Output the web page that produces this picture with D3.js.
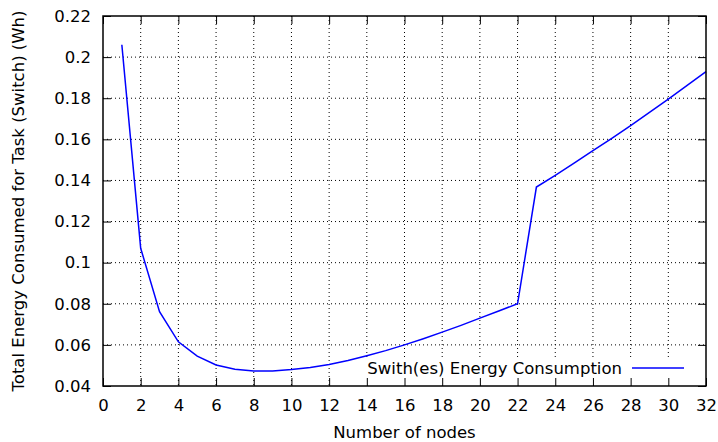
<!DOCTYPE html>
<html>
<head>
<meta charset="utf-8">
<script src="https://cdn.jsdelivr.net/npm/d3@7"></script>
<style>
  body { margin: 0; background: #fff; }
  text { font-family: "DejaVu Sans", sans-serif; fill: #000; }
</style>
</head>
<body>
<div id="chart"></div>
<script>
// number of nodes and switch energy (Wh)
var nodes = [1, 2, 3, 4, 5, 6, 7, 8, 9, 10, 11, 12, 13, 14, 15, 16,
             17, 18, 19, 20, 21, 22, 23, 24, 25, 26, 27, 28, 29, 30, 31, 32];
var energy = [0.206, 0.107, 0.0762, 0.0615, 0.0545, 0.0502, 0.0482, 0.0473,
              0.0473, 0.0480, 0.0490, 0.0505, 0.0524, 0.0547, 0.0572, 0.0600,
              0.0630, 0.0662, 0.0695, 0.0730, 0.0765, 0.0800, 0.1368, 0.1425,
              0.1484, 0.1545, 0.1605, 0.1667, 0.1731, 0.1796, 0.1862, 0.1929];
var xTicks = [0, 2, 4, 6, 8, 10, 12, 14, 16, 18, 20, 22, 24, 26, 28, 30, 32];
var yTicks = [0.04, 0.06, 0.08, 0.1, 0.12, 0.14, 0.16, 0.18, 0.2, 0.22];
var seriesName = "Swith(es) Energy Consumption";

var width = 718, height = 442;
var margin = { top: 16, right: 12, bottom: 56, left: 103 };
var plotW = width - margin.left - margin.right,
    plotH = height - margin.top - margin.bottom;

var svg = d3.select("#chart").append("svg")
    .attr("width", width)
    .attr("height", height);

var g = svg.append("g")
    .attr("transform", "translate(" + margin.left + "," + margin.top + ")");

var x = d3.scaleLinear().domain([0, 32]).range([0, plotW]);
var y = d3.scaleLinear().domain([0.04, 0.22]).range([plotH, 0]);

var fontSize = "16.5px";
var tickLen = 8;

// grid
g.selectAll(".vgrid")
    .data(xTicks.slice(1, -1))
    .join("line")
    .attr("class", "vgrid")
    .attr("x1", d => x(d)).attr("x2", d => x(d))
    .attr("y1", 0).attr("y2", plotH)
    .attr("stroke", "#000").attr("stroke-width", 1)
    .attr("stroke-dasharray", "1,3");

g.selectAll(".hgrid")
    .data(yTicks.slice(1, -1))
    .join("line")
    .attr("class", "hgrid")
    .attr("x1", 0).attr("x2", plotW)
    .attr("y1", d => y(d)).attr("y2", d => y(d))
    .attr("stroke", "#000").attr("stroke-width", 1)
    .attr("stroke-dasharray", "1,3");

// opaque key box: hides the grid, sits under the curve
var keyX = plotW - 22, keyY = plotH - 18;
g.append("rect")
    .attr("x", keyX - 322).attr("y", keyY - 11)
    .attr("width", 340).attr("height", 29)
    .attr("fill", "#fff");

// data line
var line = d3.line()
    .x((d, i) => x(nodes[i]))
    .y(d => y(d));

g.append("path")
    .datum(energy)
    .attr("d", line)
    .attr("fill", "none")
    .attr("stroke", "#0000ff")
    .attr("stroke-width", 1.5);

// legend
var legend = g.append("g")
    .attr("transform", "translate(" + keyX + "," + keyY + ")");

legend.append("line")
    .attr("x1", -52).attr("x2", 0)
    .attr("y1", 0).attr("y2", 0)
    .attr("stroke", "#0000ff")
    .attr("stroke-width", 1.5);

legend.append("text")
    .attr("x", -62)
    .attr("y", 0)
    .attr("dy", "0.36em")
    .attr("text-anchor", "end")
    .style("font-size", fontSize)
    .text(seriesName);

// axes with inward ticks on all four sides
var xAxisB = d3.axisBottom(x).tickValues(xTicks).tickSizeInner(-tickLen).tickSizeOuter(0)
    .tickPadding(13).tickFormat(d3.format("d"));
var xAxisT = d3.axisTop(x).tickValues(xTicks).tickSizeInner(-tickLen).tickSizeOuter(0)
    .tickFormat("");
var yAxisL = d3.axisLeft(y).tickValues(yTicks).tickSizeInner(-tickLen).tickSizeOuter(0)
    .tickPadding(12).tickFormat(d3.format("~g"));
var yAxisR = d3.axisRight(y).tickValues(yTicks).tickSizeInner(-tickLen).tickSizeOuter(0)
    .tickFormat("");

g.append("g").attr("transform", "translate(0," + plotH + ")").call(xAxisB);
g.append("g").call(xAxisT);
g.append("g").call(yAxisL);
g.append("g").attr("transform", "translate(" + plotW + ",0)").call(yAxisR);

g.selectAll(".domain").remove();
g.selectAll(".tick line").attr("stroke", "#000").attr("stroke-width", 1);
g.selectAll(".tick text")
    .style("font-size", fontSize)
    .style("font-family", "DejaVu Sans, sans-serif")
    .attr("fill", "#000");

// frame
g.append("rect")
    .attr("x", 0).attr("y", 0)
    .attr("width", plotW).attr("height", plotH)
    .attr("fill", "none")
    .attr("stroke", "#000")
    .attr("stroke-width", 1.5);

// axis titles
svg.append("text")
    .attr("x", margin.left + plotW / 2)
    .attr("y", 438)
    .attr("text-anchor", "middle")
    .style("font-size", fontSize)
    .text("Number of nodes");

svg.append("text")
    .attr("transform", "translate(18," + (margin.top + plotH / 2) + ") rotate(-90)")
    .attr("text-anchor", "middle")
    .attr("dy", "0.35em")
    .style("font-size", fontSize)
    .text("Total Energy Consumed for Task (Switch) (Wh)");
</script>
</body>
</html>
